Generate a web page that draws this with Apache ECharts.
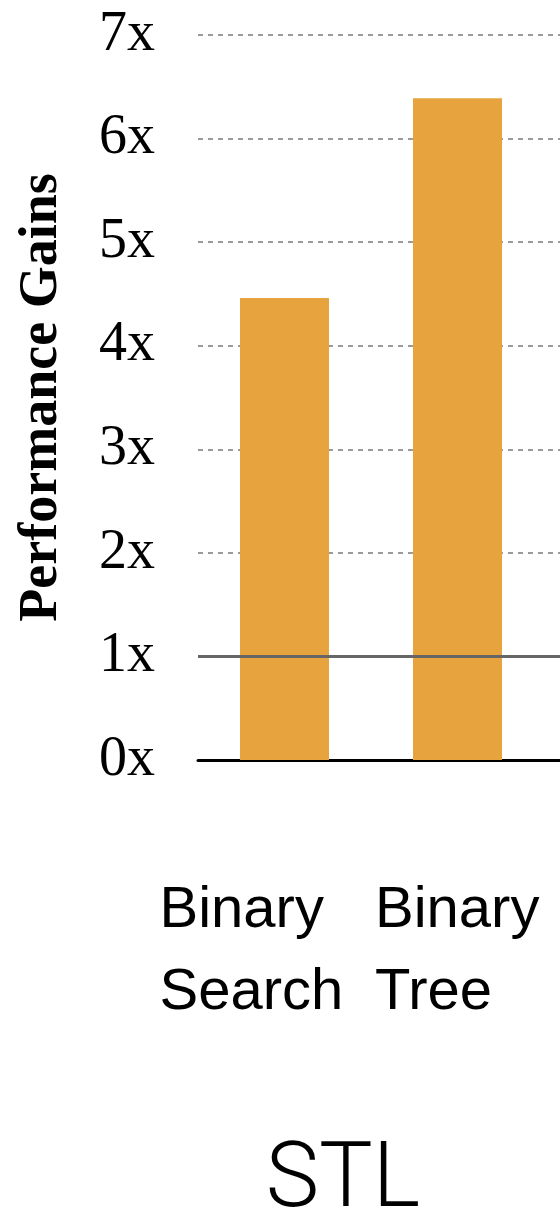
<!DOCTYPE html>
<html>
<head>
<meta charset="utf-8">
<script src="https://cdn.jsdelivr.net/npm/echarts@6/dist/echarts.min.js"></script>
<style>
  html, body { margin: 0; padding: 0; background: #fff; }
  #main { width: 560px; height: 1211px; }
</style>
</head>
<body>
<div id="main"></div>
<script>
var categories = ['Binary\nSearch', 'Binary\nTree'];
var gains = [4.46, 6.39];
var yTicks = ['0x', '1x', '2x', '3x', '4x', '5x', '6x', '7x'];
var groupName = 'STL';

// label box widths, so the left-aligned labels start where the picture has them
var labelBoxes = [250, 165];

var chart = echarts.init(document.getElementById('main'), null, { renderer: 'canvas' });

var rich = {};
labelBoxes.forEach(function (w, i) {
  rich['c' + i] = {
    fontFamily: 'Liberation Sans',
    fontSize: 58,
    lineHeight: 82,
    color: '#000',
    width: w,
    align: 'left'
  };
});

var option = {
  animation: false,
  backgroundColor: '#fff',
  grid: {
    left: 198,
    top: 35,
    width: 519,
    bottom: 451,
    containLabel: false,
    outerBoundsMode: 'none'
  },
  title: {
    text: groupName,
    left: 338,
    top: 1133,
    textAlign: 'center',
    textStyle: {
      fontFamily: 'Roboto',
      fontWeight: 300,
      fontSize: 90,
      color: '#000'
    }
  },
  xAxis: {
    type: 'category',
    data: categories,
    max: 2,
    axisLine: { lineStyle: { color: '#000', width: 3 } },
    axisTick: { show: false },
    axisLabel: {
      margin: 110,
      interval: 0,
      formatter: function (v, i) {
        if (!v) return '';
        return v.split('\n').map(function (s) { return '{c' + i + '|' + s + '}'; }).join('\n');
      },
      rich: rich
    }
  },
  yAxis: {
    type: 'value',
    min: 0,
    max: 7,
    interval: 1,
    name: 'Performance Gains',
    nameLocation: 'middle',
    nameGap: 129,
    nameTextStyle: {
      fontFamily: 'Liberation Serif',
      fontWeight: 'bold',
      fontSize: 54,
      color: '#000'
    },
    axisLine: { show: false },
    axisTick: { show: false },
    axisLabel: {
      margin: 43,
      fontFamily: 'Liberation Serif',
      fontSize: 56,
      color: '#000',
      formatter: function (v) { return yTicks[v]; }
    },
    splitLine: {
      lineStyle: { color: '#9a9a9a', width: 2, type: [5, 5] }
    }
  },
  series: [
    {
      type: 'bar',
      data: gains,
      barWidth: 89,
      itemStyle: { color: '#e6a33e' },
      markLine: {
        silent: true,
        symbol: 'none',
        label: { show: false },
        lineStyle: { color: '#666', width: 3, type: 'solid' },
        data: [{ yAxis: 1 }]
      }
    }
  ]
};

chart.setOption(option);
</script>
</body>
</html>
